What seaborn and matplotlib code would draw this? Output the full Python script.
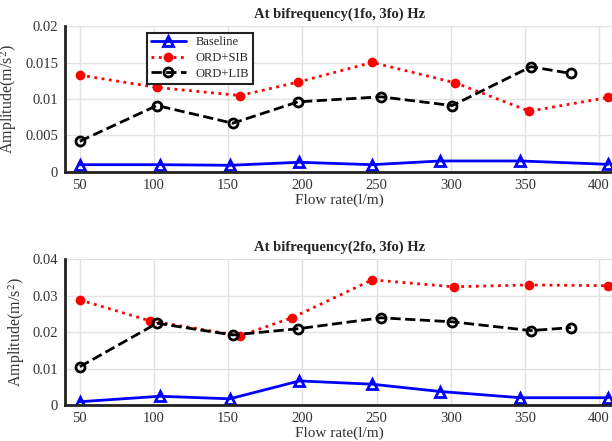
import numpy as np
import pandas as pd
import matplotlib
matplotlib.use("Agg")
import matplotlib.pyplot as plt
import seaborn as sns

# values
# top panel: bifrequency (1fo, 3fo)
x_base_1 = [50, 104, 151, 198, 247, 293, 347, 406]
base_1 = [0.0010, 0.0010, 0.00092, 0.00133, 0.0010, 0.00151, 0.00151, 0.00105]
x_sib_1 = [50, 102, 158, 197, 247, 303, 353, 406]
sib_1 = [0.01327, 0.01158, 0.01048, 0.01231, 0.01501, 0.01222, 0.00833, 0.01021]
x_lib_1 = [50, 102, 153, 197, 253, 301, 354, 381]
lib_1 = [0.00421, 0.00911, 0.00668, 0.00961, 0.0103, 0.0091, 0.01442, 0.0135]

# bottom panel: bifrequency (2fo, 3fo)
x_base_2 = [50, 104, 151, 198, 247, 293, 347, 406]
base_2 = [0.0009, 0.0024, 0.0017, 0.0066, 0.0057, 0.0037, 0.0020, 0.0020]
x_sib_2 = [50, 97, 158, 193, 247, 302, 353, 406]
sib_2 = [0.0288, 0.0231, 0.0190, 0.0239, 0.0343, 0.0324, 0.0329, 0.0327]
x_lib_2 = [50, 102, 153, 197, 253, 301, 354, 381]
lib_2 = [0.0105, 0.0224, 0.0192, 0.0209, 0.0239, 0.0228, 0.0204, 0.0212]

titles = ["At bifrequency(1fo, 3fo) Hz", "At bifrequency(2fo, 3fo) Hz"]
xticks = [50, 100, 150, 200, 250, 300, 350, 400]
yticks_1 = [0, 0.005, 0.01, 0.015, 0.02]
ylabels_1 = ["0", "0.005", "0.01", "0.015", "0.02"]
yticks_2 = [0, 0.01, 0.02, 0.03, 0.04]
ylabels_2 = ["0", "0.01", "0.02", "0.03", "0.04"]

sns.set_style("whitegrid")
plt.rcParams["font.family"] = ["Liberation Serif", "DejaVu Serif"]
plt.rcParams["mathtext.fontset"] = "stix"

fig = plt.figure(figsize=(6.12, 4.41), dpi=100)
ax1 = fig.add_axes([0.1062, 0.610, 0.897, 0.331])
ax2 = fig.add_axes([0.1062, 0.0816, 0.897, 0.331])

panels = [
    (ax1, x_base_1, base_1, x_sib_1, sib_1, x_lib_1, lib_1, yticks_1, ylabels_1),
    (ax2, x_base_2, base_2, x_sib_2, sib_2, x_lib_2, lib_2, yticks_2, ylabels_2),
]

for i, (ax, xb, b, xs, s, xl, l, yt, yl) in enumerate(panels):
    sns.lineplot(x=xb, y=b, ax=ax, color="#0000ff", linewidth=2, marker="^",
                 markersize=7, markerfacecolor="none", markeredgecolor="#0000ff",
                 markeredgewidth=2, label="Baseline")
    sns.lineplot(x=xs, y=s, ax=ax, color="#ff0000", linewidth=2, linestyle=":",
                 marker="o", markersize=5.5, markerfacecolor="#ff0000",
                 markeredgecolor="#ff0000", markeredgewidth=1.5, label="ORD+SIB")
    sns.lineplot(x=xl, y=l, ax=ax, color="black", linewidth=2, linestyle="--",
                 marker="o", markersize=6.5, markerfacecolor="none",
                 markeredgecolor="black", markeredgewidth=2, label="ORD+LIB")

    ax.set_xlim(40, 410)
    ax.set_ylim(yt[0], yt[-1])
    ax.set_xticks(xticks)
    ax.set_yticks(yt)
    ax.set_yticklabels(yl)
    ax.grid(True, color="#e2e2e2", linewidth=1)
    ax.tick_params(direction="in", length=5, width=1.5, colors="#222222",
                   labelsize=10.5, labelcolor="#333333", pad=5)
    for side in ["top", "right"]:
        ax.spines[side].set_visible(False)
    for side in ["left", "bottom"]:
        ax.spines[side].set_color("#222222")
        ax.spines[side].set_linewidth(2)
    ax.set_title(titles[i], fontsize=10.5, fontweight="bold", pad=6)
    ax.set_xlabel("Flow rate(l/m)", fontsize=11, color="#333333", labelpad=1)
    ax.set_ylabel("Amplitude(m/s$^2$)", fontsize=11.5, color="#333333")

leg = ax1.legend(loc="upper left", bbox_to_anchor=(0.149, 0.955), borderaxespad=0,
                 fontsize=9, frameon=True, fancybox=False, handlelength=2.8,
                 borderpad=0.3, labelspacing=0.3)
leg.get_frame().set_edgecolor("#222222")
leg.get_frame().set_linewidth(1.5)
leg.get_frame().set_alpha(1)
ax2.get_legend().remove()

fig.savefig("out.png", dpi=100)
